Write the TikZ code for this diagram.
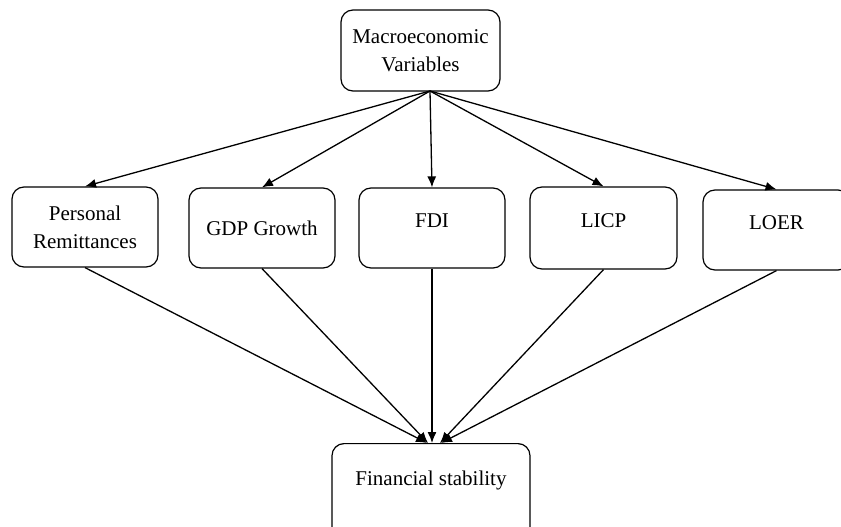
\documentclass[tikz,border=0pt]{standalone}
\usepackage{fontspec}
\setmainfont{Liberation Serif}
\usepackage{tikz}
\usetikzlibrary{arrows.meta,positioning,calc}

\tikzset{
  varbox/.style={draw,rounded corners=12pt,line width=1.2pt,
                 minimum width=146pt,minimum height=80pt,align=center,
                 font=\fontsize{21}{28}\selectfont},
  flowline/.style={line width=1.3pt,-{Latex[length=11pt,width=9pt]}}
}

\begin{document}
\begin{tikzpicture}[x=1pt,y=-1pt]
  \clip (0,0) rectangle (841,527);
  \fill[white] (0,0) rectangle (841,527);

  % source of all variables
  \node[varbox,minimum width=159pt,minimum height=81pt] (macro) at (420.5,50.5)
    {Macroeconomic\\Variables};
  \coordinate (hub) at (430,91);

  % the five variables
  \node[varbox] (remit) at (85,227)  {Personal\\Remittances};
  \node[varbox] (gdp)   at (262,228) {GDP Growth};
  \node[varbox,text depth=14pt] (fdi)  at (432,228)   {FDI};
  \node[varbox,text depth=14pt,minimum width=147pt,minimum height=82pt] (licp) at (603.5,228) {LICP};
  \node[varbox,text depth=14pt,minimum width=147pt] (loer) at (776.5,230) {LOER};

  % outcome
  \node[draw,rounded corners=12pt,line width=1.2pt,minimum width=198pt,
        minimum height=100pt,text depth=30pt,anchor=north,
        font=\fontsize{21}{28}\selectfont] (fin) at (431,443) {Financial stability};

  \foreach \v/\dx in {remit/-4,gdp/-3,fdi/1,licp/9,loer/10}{
    \draw[flowline] (hub) -- (\v.north);
    \draw[flowline] (\v.south) -- ($(fin.north)+(\dx,0)$);
  }
\end{tikzpicture}
\end{document}
